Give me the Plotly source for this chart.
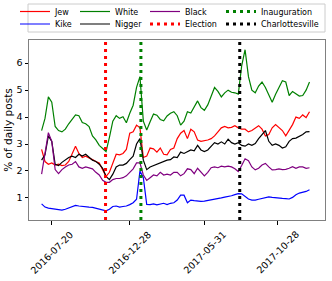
import pandas as pd
import plotly.graph_objects as go

# weekly sample dates (category axis values)
dates = pd.date_range("2016-06-29", periods=80, freq="7D")

jew = [2.8, 2.35, 2.25, 2.3, 2.22, 2.25, 2.2, 2.22, 2.35, 2.65, 2.92, 2.65, 2.5, 2.55, 2.5, 2.42, 2.35, 2.3, 2.05, 1.8,
       1.95, 2.3, 2.62, 2.6, 2.65, 2.8, 3.4, 3.45, 3.7, 3.6, 2.5, 2.55, 2.85, 2.82, 2.7, 2.85, 2.62, 2.6, 2.8, 2.85,
       3.2, 3.4, 3.5, 3.2, 3.55, 3.45, 3.15, 3.1, 3.12, 3.15, 3.2, 3.3, 3.45, 3.6, 3.65, 3.6, 3.62, 3.68, 3.6, 3.55,
       3.55, 3.45, 3.5, 3.6, 3.68, 3.55, 3.3, 3.35, 3.6, 3.72, 3.6, 3.5, 3.3, 3.5, 3.72, 4.0, 3.95, 4.08, 3.98, 4.2]
kike = [0.78, 0.66, 0.62, 0.6, 0.57, 0.55, 0.55, 0.58, 0.62, 0.68, 0.72, 0.7, 0.68, 0.68, 0.66, 0.65, 0.62, 0.58, 0.55, 0.52,
        0.58, 0.68, 0.7, 0.66, 0.68, 0.7, 0.75, 0.82, 0.95, 2.0, 1.75, 0.76, 0.75, 0.78, 0.74, 0.76, 0.8, 0.75, 0.8, 0.82,
        0.92, 1.1, 1.1, 0.82, 0.92, 0.9, 0.88, 0.87, 0.88, 0.9, 0.92, 0.95, 0.97, 1.0, 1.03, 1.05, 1.08, 1.12, 1.16, 1.15,
        1.05, 0.96, 0.92, 0.92, 0.95, 0.98, 1.02, 1.04, 1.02, 1.0, 1.0, 0.98, 0.97, 0.96, 1.02, 1.12, 1.18, 1.2, 1.24, 1.3]
white = [3.5, 3.95, 4.75, 4.55, 3.65, 3.5, 3.45, 3.55, 3.75, 3.9, 4.08, 4.05, 3.8, 3.75, 3.65, 3.3, 3.15, 2.95, 2.85, 2.72,
         3.25, 3.85, 4.05, 3.95, 4.01, 3.79, 4.14, 4.44, 5.1, 5.5, 3.85, 3.52, 3.83, 4.11, 4.07, 3.91, 3.86, 4.04, 4.14, 4.2,
         4.05, 3.7, 3.85, 4.2, 4.15, 4.4, 4.6, 4.35, 4.25, 4.45, 4.8, 5.1, 4.95, 4.75, 4.9, 5.0, 4.92, 4.9, 4.85, 5.9,
         6.5, 5.5, 5.0, 4.9, 5.15, 5.3, 5.1, 4.8, 4.55, 4.85, 5.1, 5.35, 5.3, 4.8, 4.95, 4.85, 4.78, 4.8, 5.0, 5.3]
nigger = [2.4, 2.6, 3.3, 3.1, 2.25, 2.2, 2.32, 2.42, 2.5, 2.55, 2.5, 2.62, 2.55, 2.62, 2.5, 2.4, 2.35, 2.25, 2.1, 1.8,
          1.68, 1.88, 2.15, 2.22, 2.22, 2.28, 2.42, 2.55, 3.0, 3.2, 2.4, 2.05, 2.15, 2.2, 2.25, 2.28, 2.35, 2.4, 2.42, 2.52,
          2.5, 2.7, 2.65, 2.72, 2.78, 2.75, 2.95, 2.78, 2.72, 2.78, 2.9, 3.05, 3.0, 3.08, 3.0, 3.18, 3.05, 3.0, 3.05, 2.95,
          2.92, 3.0, 2.95, 3.02, 3.2, 3.35, 3.5, 3.1, 2.95, 3.0, 2.95, 2.85, 2.9, 3.1, 3.2, 3.22, 3.28, 3.35, 3.45, 3.46]
black = [1.88, 2.6, 3.42, 3.1, 2.05, 1.9, 2.05, 2.15, 2.22, 2.25, 2.35, 2.15, 2.1, 2.15, 2.1, 2.08, 1.95, 1.85, 1.65, 1.58,
         1.58, 1.68, 1.72, 1.72, 1.75, 1.82, 1.95, 2.08, 2.3, 2.3, 1.85, 1.65, 1.75, 1.85, 1.82, 1.95, 1.85, 1.88, 1.85, 1.95,
         1.95, 1.82, 1.9, 2.08, 2.05, 1.9, 2.1, 1.95, 1.82, 1.95, 2.12, 2.15, 2.12, 2.18, 2.15, 2.18, 2.15, 2.08, 1.98, 2.2,
         2.45, 2.38, 2.15, 2.04, 2.1, 2.22, 2.28, 2.15, 2.04, 2.05, 2.08, 2.05, 2.06, 2.1, 2.16, 2.1, 2.15, 2.15, 2.1, 2.12]

event_names = ["Election", "Inauguration", "Charlottesville"]
event_dates = ["2016-11-08", "2017-01-20", "2017-08-12"]
event_colors = ["#ff0000", "#008000", "#000000"]

tick_dates = ["2016-07-20", "2016-12-28", "2017-05-31", "2017-10-28"]

series = [
    ("Jew", jew, "#ff0000", "legend"),
    ("Kike", kike, "#0000ff", "legend2"),
    ("White", white, "#008000", "legend3"),
    ("Nigger", nigger, "#000000", "legend4"),
    ("Black", black, "#800080", "legend5"),
]
event_legends = ["legend6", "legend7", "legend8"]

Y_RANGE = [0.18, 6.86]
X_RANGE = ["2016-06-03", "2018-02-04"]
FONT = "DejaVu Sans"

fig = go.Figure()
for name, vals, col, lg in series:
    fig.add_trace(go.Scatter(x=dates, y=vals, mode="lines", name=name,
                             line=dict(color=col, width=1.2), legend=lg))
for name, d, col, lg in zip(event_names, event_dates, event_colors, event_legends):
    fig.add_trace(go.Scatter(x=[d, d], y=Y_RANGE, mode="lines", name=name,
                             line=dict(color=col, width=3, dash="3px,4px"), legend=lg))

# legend layout: 4 columns x 2 rows
L, T, W, H = 29, 40, 296, 180
def px_x(p):
    return (p - L) / W
def px_y(p):
    return (T + H - p) / H

col_text = [55, 115, 185, 261]
row_y = [11.5, 24.0]
legend_slots = {
    "legend": (0, 0), "legend2": (0, 1),
    "legend3": (1, 0), "legend4": (1, 1),
    "legend5": (2, 0), "legend6": (2, 1),
    "legend7": (3, 0), "legend8": (3, 1),
}
legend_layout = {}
for key, (c, r) in legend_slots.items():
    legend_layout[key] = dict(
        x=px_x(col_text[c] - 40), y=px_y(row_y[r]), xanchor="left", yanchor="middle",
        bgcolor="rgba(0,0,0,0)", borderwidth=0, font=dict(family=FONT, size=8, color="#000"),
        itemwidth=30,
    )

annotations = []
for d in tick_dates:
    annotations.append(dict(x=d, y=0, xref="x", yref="paper", text=d, showarrow=False,
                            textangle=-45, xanchor="center", yanchor="top", yshift=-6,
                            font=dict(family=FONT, size=9.5, color="#000")))

fig.update_layout(
    width=332, height=281,
    margin=dict(l=L, r=332 - L - W, t=T, b=281 - T - H, autoexpand=False),
    paper_bgcolor="white", plot_bgcolor="white",
    font=dict(family=FONT, size=9.5, color="#000"),
    showlegend=True,
    annotations=annotations,
    shapes=[dict(type="rect", xref="paper", yref="paper",
                 x0=px_x(28), x1=px_x(325), y0=px_y(32), y1=px_y(4),
                 line=dict(color="#cccccc", width=1), fillcolor="rgba(0,0,0,0)", layer="above")],
    **legend_layout,
)
fig.update_xaxes(range=X_RANGE, type="date", tickvals=tick_dates, showticklabels=False,
                 ticks="outside", ticklen=3.5, tickcolor="#000", showgrid=False, zeroline=False,
                 showline=True, linecolor="#808080", linewidth=1, mirror=True)
fig.update_yaxes(range=Y_RANGE, tickvals=[1, 2, 3, 4, 5, 6], ticks="outside", ticklen=3.5,
                 tickcolor="#000", showgrid=False, zeroline=False,
                 showline=True, linecolor="#808080", linewidth=1, mirror=True,
                 title=dict(text="% of daily posts", standoff=1, font=dict(family=FONT, size=10.5)),
                 tickfont=dict(family=FONT, size=9.5))

fig.write_html("out.html", config={"displayModeBar": False},
               post_script="document.body.style.margin='0';document.body.style.padding='0';")
